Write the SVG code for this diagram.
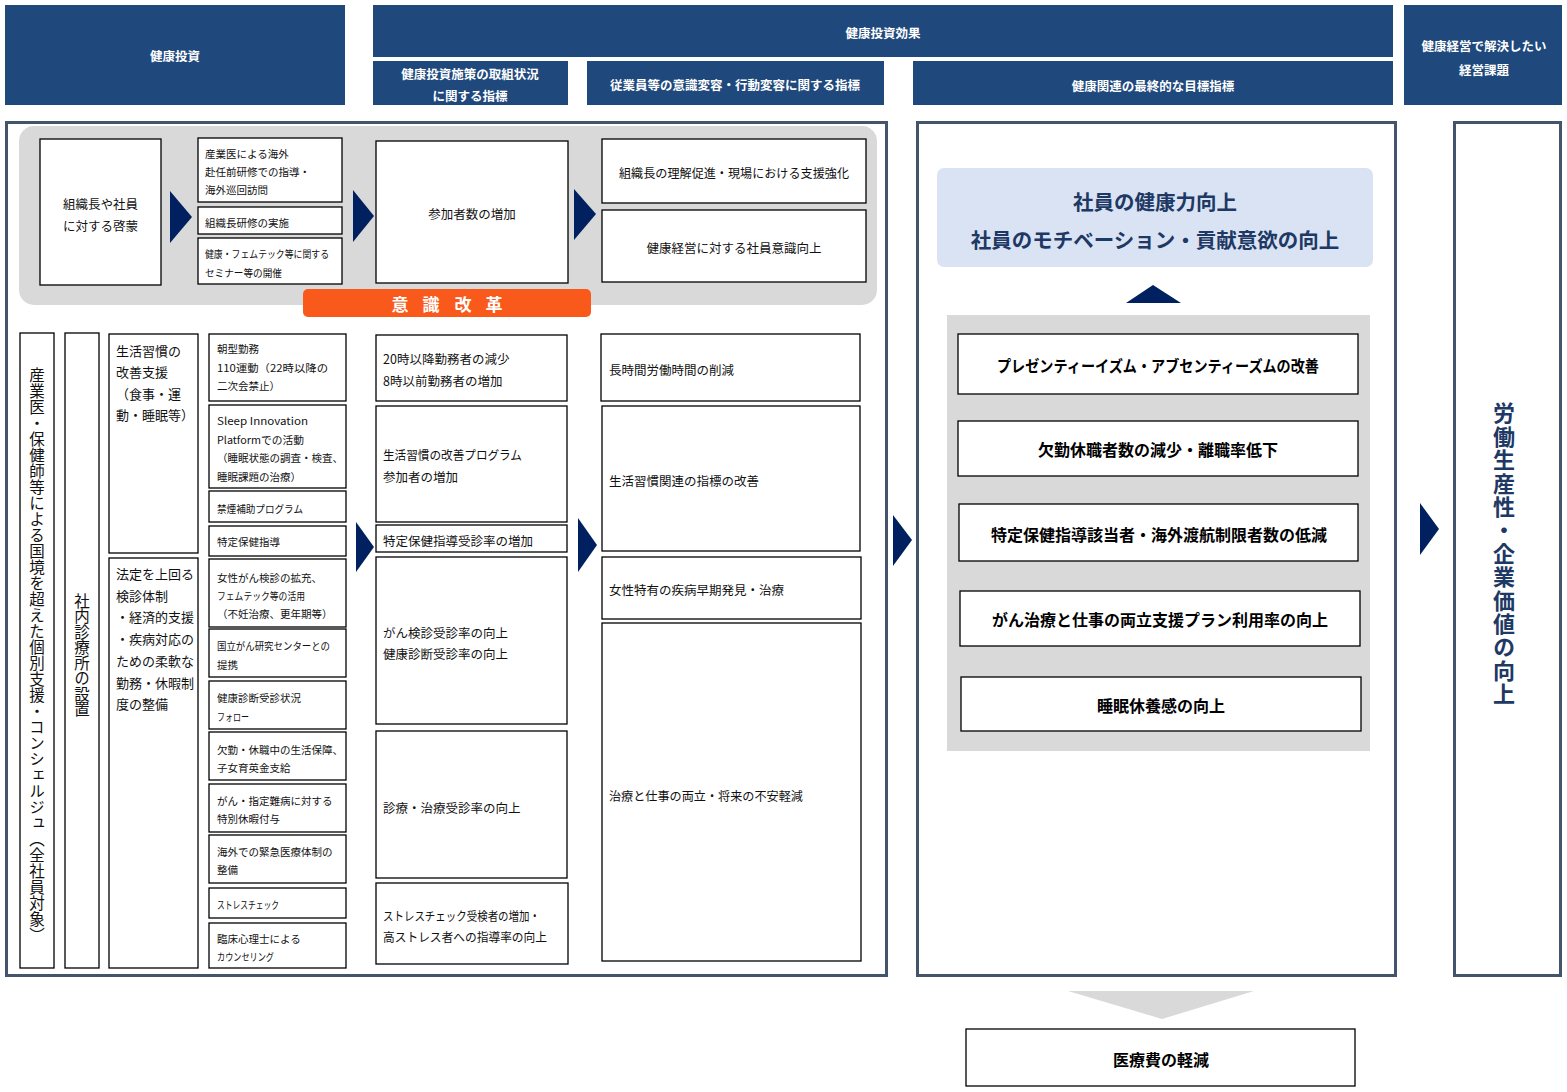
<svg xmlns="http://www.w3.org/2000/svg" width="1567" height="1092" viewBox="0 0 1567 1092">
<style>
text{font-family:"Noto Sans CJK JP","Noto Sans",sans-serif;fill:#111;dominant-baseline:central}
.hdr{fill:#1F497D}
.ht{fill:#fff;font-weight:700;font-size:12.5px;text-anchor:middle}
.bx{fill:#fff;stroke:#000;stroke-width:1.3}
.pnl{fill:#fff;stroke:#44546A;stroke-width:3}
.gray{fill:#D9D9D9}
.arr{fill:#002060}
.s10{font-size:10.5px}
.s12{font-size:12.5px}
.s13{font-size:13px}
.c{text-anchor:middle}
.b16{font-size:16px;font-weight:700;text-anchor:middle;fill:#000}
.navy{fill:#203864;font-weight:700}
.vt{writing-mode:vertical-rl;font-size:15.5px}
</style>
<rect width="1567" height="1092" fill="#fff"/>

<!-- Header -->
<g id="hdr-invest"><rect class="hdr" x="5" y="5" width="340" height="100"/><text class="ht" x="175" y="55">健康投資</text></g>
<g id="hdr-effect"><rect class="hdr" x="373" y="5" width="1020" height="52"/><text class="ht" x="883" y="32">健康投資効果</text></g>
<g id="hdr-sub1"><rect class="hdr" x="373" y="61" width="195" height="44"/><text class="ht" x="470" y="73">健康投資施策の取組状況</text><text class="ht" x="470" y="95">に関する指標</text></g>
<g id="hdr-sub2"><rect class="hdr" x="587" y="61" width="297" height="44"/><text class="ht" x="735" y="84">従業員等の意識変容・行動変容に関する指標</text></g>
<g id="hdr-sub3"><rect class="hdr" x="913" y="61" width="480" height="44"/><text class="ht" x="1153" y="85">健康関連の最終的な目標指標</text></g>
<g id="hdr-issue"><rect class="hdr" x="1404" y="5" width="158" height="100"/><text class="ht" x="1484" y="45">健康経営で解決したい</text><text class="ht" x="1484" y="69">経営課題</text></g>

<!-- Panels -->
<g id="panel-left"><rect class="pnl" x="6.5" y="122.5" width="880" height="853"/></g>
<g id="panel-mid"><rect class="pnl" x="917.5" y="122.5" width="478" height="853"/></g>
<g id="panel-right"><rect class="pnl" x="1454.5" y="122.5" width="106" height="853"/>
<text class="navy" x="1504" y="402" style="writing-mode:vertical-rl;font-size:22px;letter-spacing:1.4px">労働生産性・企業価値の向上</text></g>

<!-- Top gray area -->
<g id="awareness-area"><rect class="gray" x="19" y="126" width="858" height="179" rx="15"/></g>
<g id="n-keimo"><rect class="bx" x="40" y="139" width="121" height="146"/><text class="s12 c" x="100.5" y="203">組織長や社員</text><text class="s12 c" x="100.5" y="225">に対する啓蒙</text></g>
<g id="n-sangyoi"><rect class="bx" x="198" y="138" width="144" height="64"/><text class="s10" x="205" y="153">産業医による海外</text><text class="s10" x="205" y="171">赴任前研修での指導・</text><text class="s10" x="205" y="189">海外巡回訪問</text></g>
<g id="n-kenshu"><rect class="bx" x="198" y="207" width="144" height="27"/><text class="s10" x="205" y="222">組織長研修の実施</text></g>
<g id="n-seminar"><rect class="bx" x="198" y="238" width="144" height="46"/><text class="s10" x="205" y="253" textLength="124" lengthAdjust="spacingAndGlyphs">健康・フェムテック等に関する</text><text class="s10" x="205" y="272" textLength="77" lengthAdjust="spacingAndGlyphs">セミナー等の開催</text></g>
<g id="n-sanka"><rect class="bx" x="376" y="141" width="192" height="142"/><text class="s12 c" x="472" y="213">参加者数の増加</text></g>
<g id="n-rikai"><rect class="bx" x="602" y="139" width="264" height="64"/><text class="s12 c" x="734" y="172" textLength="230" lengthAdjust="spacingAndGlyphs">組織長の理解促進・現場における支援強化</text></g>
<g id="n-ishiki"><rect class="bx" x="602" y="210" width="264" height="72"/><text class="s12 c" x="734" y="247">健康経営に対する社員意識向上</text></g>
<g id="label-ishikikaikaku"><rect x="303" y="289" width="288" height="28" rx="5" fill="#F95A1C"/><text x="400 431 463 494" y="303" style="fill:#fff;font-weight:700;font-size:17px;text-anchor:middle">意識改革</text></g>

<!-- Lower left columns -->
<g id="n-concierge"><rect class="bx" x="20" y="333" width="34" height="635"/><text class="vt" x="37" y="367" style="letter-spacing:0.5px">産業医・保健師等による国境を超えた個別支援・コンシェルジュ（全社員対象）</text></g>
<g id="n-clinic"><rect class="bx" x="65" y="333" width="34" height="635"/><text class="vt" x="82" y="593">社内診療所の設置</text></g>
<g id="n-lifestyle"><rect class="bx" x="109" y="334" width="89" height="219"/><text class="s13" x="116" y="350">生活習慣の</text><text class="s13" x="116" y="371">改善支援</text><text class="s13" x="116" y="393">（食事・運</text><text class="s13" x="116" y="414">動・睡眠等）</text></g>
<g id="n-kenshin"><rect class="bx" x="109" y="558" width="89" height="410"/><text class="s13" x="116" y="573">法定を上回る</text><text class="s13" x="116" y="595">検診体制</text><text class="s13" x="116" y="616">・経済的支援</text><text class="s13" x="116" y="638">・疾病対応の</text><text class="s13" x="116" y="660">ための柔軟な</text><text class="s13" x="116" y="682">勤務・休暇制</text><text class="s13" x="116" y="703">度の整備</text></g>

<g id="m-asa"><rect class="bx" x="209" y="334" width="137" height="67"/><text class="s10" x="217" y="348">朝型勤務</text><text class="s10" x="217" y="367" textLength="111" lengthAdjust="spacingAndGlyphs">110運動（22時以降の</text><text class="s10" x="217" y="385">二次会禁止）</text></g>
<g id="m-sleep"><rect class="bx" x="209" y="405" width="137" height="83"/><text class="s10" x="217" y="420" textLength="91" lengthAdjust="spacingAndGlyphs">Sleep Innovation</text><text class="s10" x="217" y="439" textLength="87" lengthAdjust="spacingAndGlyphs">Platformでの活動</text><text class="s10" x="217" y="457">（睡眠状態の調査・検査、</text><text class="s10" x="217" y="476">睡眠課題の治療）</text></g>
<g id="m-kinen"><rect class="bx" x="209" y="491" width="137" height="31"/><text class="s10" x="217" y="508" textLength="86" lengthAdjust="spacingAndGlyphs">禁煙補助プログラム</text></g>
<g id="m-tokutei"><rect class="bx" x="209" y="526" width="137" height="30"/><text class="s10" x="217" y="541">特定保健指導</text></g>
<g id="m-josei"><rect class="bx" x="209" y="559" width="137" height="68"/><text class="s10" x="217" y="577">女性がん検診の拡充、</text><text class="s10" x="217" y="595" textLength="88" lengthAdjust="spacingAndGlyphs">フェムテック等の活用</text><text class="s10" x="217" y="613">（不妊治療、更年期等）</text></g>
<g id="m-ncc"><rect class="bx" x="209" y="629" width="137" height="48"/><text class="s10" x="217" y="645" textLength="113" lengthAdjust="spacingAndGlyphs">国立がん研究センターとの</text><text class="s10" x="217" y="664">提携</text></g>
<g id="m-kenshin"><rect class="bx" x="209" y="681" width="137" height="48"/><text class="s10" x="217" y="697">健康診断受診状況</text><text class="s10" x="217" y="716" textLength="32" lengthAdjust="spacingAndGlyphs">フォロー</text></g>
<g id="m-hosho"><rect class="bx" x="209" y="732" width="137" height="48"/><text class="s10" x="217" y="749">欠勤・休職中の生活保障、</text><text class="s10" x="217" y="767">子女育英金支給</text></g>
<g id="m-kyuka"><rect class="bx" x="209" y="784" width="137" height="48"/><text class="s10" x="217" y="800">がん・指定難病に対する</text><text class="s10" x="217" y="818">特別休暇付与</text></g>
<g id="m-kaigai"><rect class="bx" x="209" y="835" width="137" height="48"/><text class="s10" x="217" y="851">海外での緊急医療体制の</text><text class="s10" x="217" y="869">整備</text></g>
<g id="m-stress"><rect class="bx" x="209" y="888" width="137" height="30"/><text class="s10" x="217" y="904" textLength="62" lengthAdjust="spacingAndGlyphs">ストレスチェック</text></g>
<g id="m-counsel"><rect class="bx" x="209" y="923" width="137" height="45"/><text class="s10" x="217" y="938">臨床心理士による</text><text class="s10" x="217" y="956" textLength="57" lengthAdjust="spacingAndGlyphs">カウンセリング</text></g>

<!-- Middle column -->
<g id="k-20ji"><rect class="bx" x="376" y="335" width="191" height="66"/><text class="s12" x="383" y="358">20時以降勤務者の減少</text><text class="s12" x="383" y="380">8時以前勤務者の増加</text></g>
<g id="k-program"><rect class="bx" x="376" y="406" width="191" height="116"/><text class="s12" x="383" y="454" textLength="139" lengthAdjust="spacingAndGlyphs">生活習慣の改善プログラム</text><text class="s12" x="383" y="476">参加者の増加</text></g>
<g id="k-tokutei"><rect class="bx" x="376" y="525" width="191" height="27"/><text class="s12" x="383" y="540">特定保健指導受診率の増加</text></g>
<g id="k-gan"><rect class="bx" x="376" y="557" width="191" height="167"/><text class="s12" x="383" y="632">がん検診受診率の向上</text><text class="s12" x="383" y="653">健康診断受診率の向上</text></g>
<g id="k-shinryo"><rect class="bx" x="376" y="731" width="191" height="147"/><text class="s12" x="383" y="807">診療・治療受診率の向上</text></g>
<g id="k-stress"><rect class="bx" x="376" y="883" width="192" height="81"/><text class="s12" x="383" y="915" textLength="157" lengthAdjust="spacingAndGlyphs">ストレスチェック受検者の増加・</text><text class="s12" x="383" y="936" textLength="164" lengthAdjust="spacingAndGlyphs">高ストレス者への指導率の向上</text></g>

<!-- Right column -->
<g id="r-chojikan"><rect class="bx" x="601" y="334" width="259" height="67"/><text class="s12" x="609" y="369">長時間労働時間の削減</text></g>
<g id="r-seikatsu"><rect class="bx" x="602" y="406" width="258" height="145"/><text class="s12" x="609" y="480">生活習慣関連の指標の改善</text></g>
<g id="r-josei"><rect class="bx" x="602" y="557" width="259" height="62"/><text class="s12" x="609" y="589">女性特有の疾病早期発見・治療</text></g>
<g id="r-ryoritsu"><rect class="bx" x="602" y="623" width="259" height="338"/><text class="s12" x="609" y="795" textLength="194" lengthAdjust="spacingAndGlyphs">治療と仕事の両立・将来の不安軽減</text></g>

<!-- Goals panel -->
<g id="g-top"><rect x="937" y="168" width="436" height="99" rx="7" fill="#DAE3F3"/><text class="navy c" x="1155" y="201" style="font-size:20.5px">社員の健康力向上</text><text class="navy c" x="1155" y="239" style="font-size:20.5px">社員のモチベーション・貢献意欲の向上</text></g>
<g id="g-area"><rect class="gray" x="947" y="315" width="423" height="436"/></g>
<g id="g-presen"><rect class="bx" x="958" y="334" width="400" height="60"/><text class="b16" x="1158" y="365" textLength="322" lengthAdjust="spacingAndGlyphs">プレゼンティーイズム・アブセンティーズムの改善</text></g>
<g id="g-kekkin"><rect class="bx" x="958" y="421" width="400" height="55"/><text class="b16" x="1158" y="449">欠勤休職者数の減少・離職率低下</text></g>
<g id="g-tokutei"><rect class="bx" x="959" y="504" width="399" height="57"/><text class="b16" x="1159" y="534">特定保健指導該当者・海外渡航制限者数の低減</text></g>
<g id="g-gan"><rect class="bx" x="960" y="591" width="400" height="55"/><text class="b16" x="1160" y="619">がん治療と仕事の両立支援プラン利用率の向上</text></g>
<g id="g-suimin"><rect class="bx" x="961" y="677" width="400" height="54"/><text class="b16" x="1161" y="705">睡眠休養感の向上</text></g>
<g id="g-iryohi"><rect class="bx" x="966" y="1029" width="389" height="57"/><text class="b16" x="1161" y="1059">医療費の軽減</text></g>

<!-- Connectors -->
<g id="connectors">
<polygon class="arr" points="170,191 192,217 170,243"/>
<polygon class="arr" points="353,190 374,216 353,242"/>
<polygon class="arr" points="574,189 596,214 574,240"/>
<polygon class="arr" points="356,522 374,547 356,572"/>
<polygon class="arr" points="578,518 597,545 578,572"/>
<polygon class="arr" points="893,515 912,540 893,566"/>
<polygon class="arr" points="1420,503 1439,529 1420,555"/>
<polygon class="arr" points="1126,303 1153,285 1181,303"/>
<polygon class="gray" points="1068,991 1254,991 1162,1019"/>
</g>
</svg>
